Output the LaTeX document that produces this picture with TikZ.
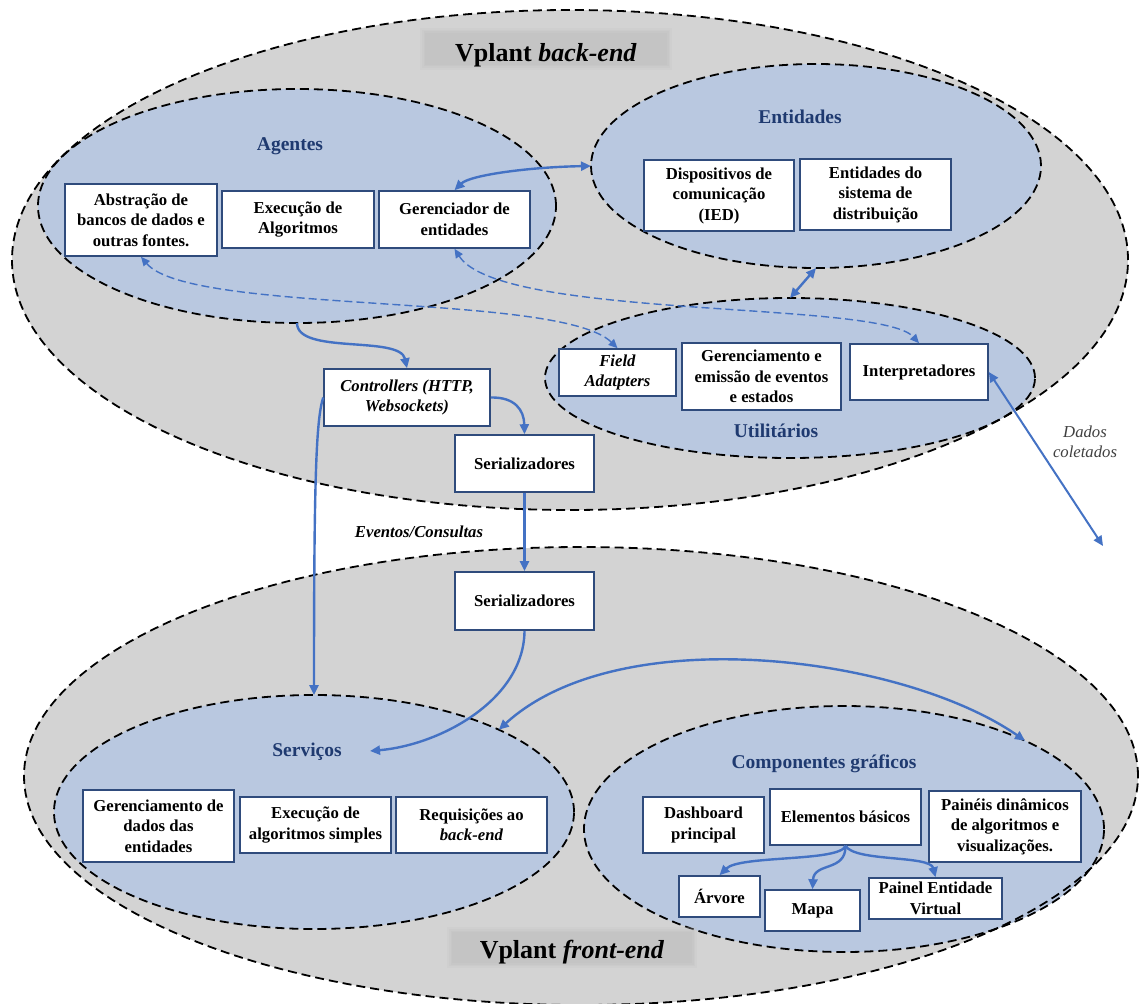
\documentclass[tikz,border=0pt]{standalone}
\usepackage{fontspec}
\setmainfont{Liberation Serif}
\usetikzlibrary{shapes.geometric,arrows.meta}
\definecolor{grayfill}{HTML}{D3D3D3}
\definecolor{bluefill}{HTML}{B9C8E0}
\definecolor{navy}{HTML}{1F3A70}
\definecolor{boxline}{HTML}{2F4B7C}
\definecolor{arrowblue}{HTML}{4472C4}
\definecolor{titlegray}{HTML}{C4C4C4}
\definecolor{darktext}{HTML}{404040}
\begin{document}
\begin{tikzpicture}[x=1pt,y=-1pt,
  ellfill/.style={ellipse, inner sep=0pt, outer sep=0pt, fill=#1},
  ellline/.style={draw=black, line width=1.8pt, dash pattern=on 9pt off 5pt},
  box/.style={draw=boxline, line width=1.6pt, fill=white, align=center, inner sep=1pt,
    font=\fontsize{16.7}{20.5}\selectfont\bfseries},
  lbl/.style={text=navy, font=\fontsize{19.5}{23}\selectfont\bfseries, inner sep=0pt},
  conn/.style={draw=arrowblue, line width=2.4pt, -{Triangle[length=10pt,width=9pt]}},
  dconn/.style={draw=arrowblue, line width=1.4pt, dash pattern=on 8pt off 4pt,
    {Triangle[length=9pt,width=8pt]}-{Triangle[length=9pt,width=8pt]}},
  biconn/.style={draw=arrowblue, line width=2.4pt, {Triangle[length=10pt,width=9pt]}-{Triangle[length=10pt,width=9pt]}},
  titlebox/.style={inner sep=0pt, text depth=0pt, font=\fontsize{26}{30}\selectfont\bfseries},
  note/.style={align=center, inner sep=0pt}
]
\useasboundingbox (0,0) rectangle (1139,1003);
\fill[white] (0,0) rectangle (1139,1003);

% ---------- ellipse fills ----------
\node[ellfill=grayfill, minimum width=1116pt, minimum height=500pt] (back) at (570,260) {};
\node[ellfill=grayfill, minimum width=1114pt, minimum height=458pt] (front) at (581,776) {};
\node[ellfill=bluefill, minimum width=518pt, minimum height=234pt] (agentes) at (297,206) {};
\node[ellfill=bluefill, minimum width=450pt, minimum height=204pt] (entid) at (816,166) {};
\node[ellfill=bluefill, minimum width=490pt, minimum height=160pt] (util) at (790,378) {};
\node[ellfill=bluefill, minimum width=520pt, minimum height=234pt] (serv) at (314,812) {};
\node[ellfill=bluefill, minimum width=520pt, minimum height=246pt] (comp) at (844,829) {};

% ---------- ellipse borders ----------
\draw[ellline] (back.center) ellipse [x radius=558pt, y radius=250pt];
\draw[ellline] (front.center) ellipse [x radius=557pt, y radius=229pt];
\draw[ellline] (agentes.center) ellipse [x radius=259pt, y radius=117pt];
\draw[ellline] (entid.center) ellipse [x radius=225pt, y radius=102pt];
\draw[ellline] (util.center) ellipse [x radius=245pt, y radius=80pt];
\draw[ellline] (serv.center) ellipse [x radius=260pt, y radius=117pt];
\draw[ellline] (comp.center) ellipse [x radius=260pt, y radius=123pt];

% ---------- title backgrounds (soft edges) ----------
\foreach \d/\o in {5/0.25,3/0.35,1.5/0.5,0/1}{
  \fill[titlegray, opacity=\o] (425-\d,33-\d) rectangle (667+\d,65+\d);
  \fill[titlegray, opacity=\o] (452-\d,932-\d) rectangle (692+\d,963+\d);
}

% ---------- titles ----------
\node[titlebox, minimum width=242pt, minimum height=32pt, text height=26pt] (tback) at (546,49) {Vplant \textit{back-end}};
\node[titlebox, minimum width=240pt, minimum height=31pt, text height=22pt] (tfront) at (572,947.5) {Vplant \textit{front-end}};

% ---------- ellipse labels ----------
\node[lbl] (lagentes) at (290,146) {Agentes};
\node[lbl] (lentid) at (800,117) {Entidades};
\node[lbl] (lutil) at (776,431) {Utilitários};
\node[lbl] (lserv) at (307,752) {Serviços};
\node[lbl] (lcomp) at (824,764) {Componentes gráficos};

% ---------- boxes ----------
\node[box, minimum width=152pt, minimum height=72pt] (abs) at (141,220) {Abstração de\\bancos de dados e\\outras fontes.};
\node[box, minimum width=152pt, minimum height=57pt] (exe) at (298,219.5) {Execução de\\Algoritmos};
\node[box, minimum width=151pt, minimum height=57pt] (ger) at (454.5,219.5) {Gerenciador de\\entidades};
\node[box, minimum width=150pt, minimum height=71pt] (disp) at (719,195.5) {Dispositivos de\\comunicação\\(IED)};
\node[box, minimum width=151pt, minimum height=71pt] (entsys) at (875.5,194.5) {Entidades do\\sistema de\\distribuição};
\node[box, minimum width=117pt, minimum height=47pt] (field) at (617.5,372.5) {\textit{Field}\\\textit{Adatpters}};
\node[box, minimum width=159pt, minimum height=67pt] (gerev) at (761.5,376.5) {Gerenciamento e\\emissão de eventos\\e estados};
\node[box, minimum width=138pt, minimum height=56pt] (interp) at (919,372) {Interpretadores};
\node[box, minimum width=166pt, minimum height=57pt] (ctrl) at (407,397.5) {\textit{Controllers (HTTP,}\\\textit{Websockets)}};
\node[box, minimum width=139pt, minimum height=57pt] (ser1) at (524.5,463.5) {Serializadores};
\node[box, minimum width=139pt, minimum height=58pt] (ser2) at (524.5,601) {Serializadores};
\node[box, minimum width=151pt, minimum height=72pt] (gerdados) at (158.5,826) {Gerenciamento de\\dados das\\entidades};
\node[box, minimum width=151pt, minimum height=56pt] (exealg) at (315.5,825) {Execução de\\algoritmos simples};
\node[box, minimum width=151pt, minimum height=56pt] (req) at (471.5,825) {Requisições ao\\\textit{back-end}};
\node[box, minimum width=121pt, minimum height=56pt] (dash) at (703.5,825) {Dashboard\\principal};
\node[box, minimum width=151pt, minimum height=56pt] (elem) at (845.5,817) {Elementos básicos};
\node[box, minimum width=152pt, minimum height=71pt] (paineis) at (1005,826.5) {Painéis dinâmicos\\de algoritmos e\\visualizações.};
\node[box, minimum width=81pt, minimum height=41pt] (arv) at (719.5,896.5) {Árvore};
\node[box, minimum width=95pt, minimum height=41pt] (mapa) at (812.5,910.5) {Mapa};
\node[box, minimum width=133pt, minimum height=41pt] (painel) at (935.5,898.5) {Painel Entidade\\Virtual};

% ---------- free labels ----------
\node[note, font=\fontsize{16.7}{20}\selectfont\bfseries\itshape, anchor=base] (evcons) at (419,537) {Eventos/Consultas};
\node[note, font=\fontsize{16.7}{20}\selectfont\itshape, text=darktext] (dados) at (1085,442) {Dados\\coletados};

% ---------- coordinates ----------
\coordinate (dcend) at (1103,546);
\coordinate (servin) at (370,751);

% ---------- connectors ----------
\draw[dconn] (abs.south) .. controls (190,315) and (560,292) .. (field.north);
\draw[dconn] (ger.south) .. controls (500,320) and (880,300) .. (interp.north);
\draw[biconn] (ger.north) .. controls (470,175) and (530,167) .. (entid.west);
\draw[biconn] (entid.south) -- (util.north);
\draw[biconn, line width=2pt] (interp.east) -- (dcend);
\draw[conn] (agentes.south) .. controls (297,355) and (400,335) .. (ctrl.north);
\draw[conn] (ctrl.east) .. controls (515,397) and (524,410) .. (ser1.north);
\draw[conn] (ctrl.west) .. controls (316,420) and (314,480) .. (serv.north);
\draw[conn] (ser1.south) -- (ser2.north);
\draw[conn] (ser2.south) .. controls (524,700) and (440,745) .. (servin);
\draw[biconn] (serv.24) .. controls (620,619) and (903,656) .. (comp.26);
\draw[conn] (elem.south) .. controls (840,862) and (740,855) .. (arv.north);
\draw[conn] (elem.south) .. controls (846,872) and (814,862) .. (mapa.north);
\draw[conn] (elem.south) .. controls (855,862) and (930,855) .. (painel.north);
\end{tikzpicture}
\end{document}
